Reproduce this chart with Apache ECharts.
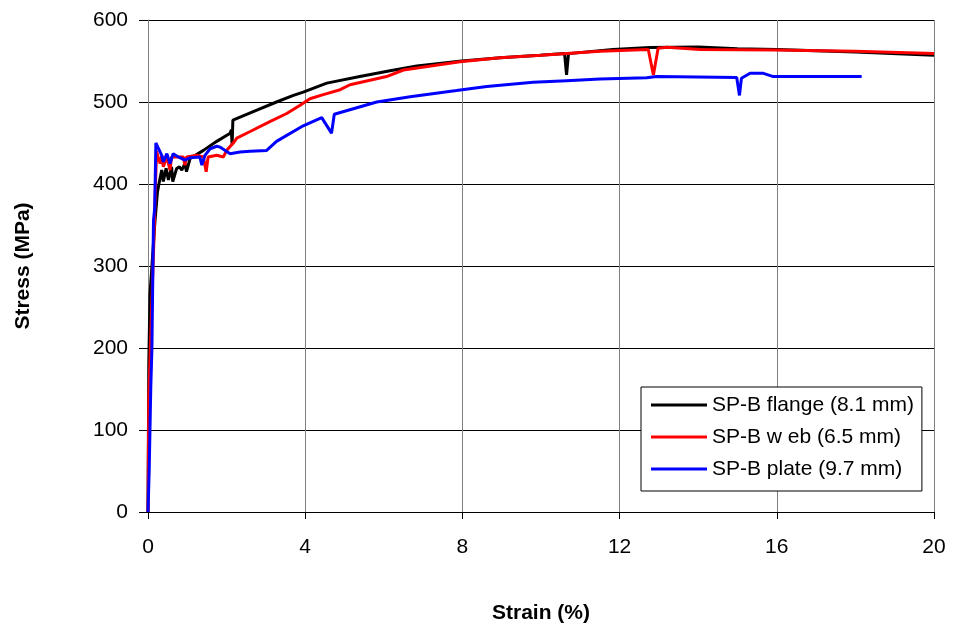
<!DOCTYPE html>
<html>
<head>
<meta charset="utf-8">
<script src="https://cdn.jsdelivr.net/npm/echarts@6/dist/echarts.min.js"></script>
<style>html,body{margin:0;padding:0;background:#fff;}#c{width:953px;height:635px;}</style>
</head>
<body>
<div id="c"></div>
<script>
var seriesNames = ['SP-B flange (8.1 mm)', 'SP-B w eb (6.5 mm)', 'SP-B plate (9.7 mm)'];
var xTicks = [0, 4, 8, 12, 16, 20];
var yTicks = [0, 100, 200, 300, 400, 500, 600];

var flangeStrain = [0,0.02,0.05,0.1,0.17,0.24,0.29,0.35,0.39,0.46,0.52,0.60,0.63,0.73,0.80,0.86,0.94,0.98,1.07,1.41,1.75,2.09,2.12,2.14,2.16,2.77,3.27,3.70,3.95,4.55,5.39,6.16,6.84,7.98,8.96,9.97,10.6,10.65,10.7,11.83,12.77,14,15,16,18,20];
var flangeStress = [0,180,265,300,350,390,403,417,403,419,405,421,403,419,421,417,425,415,431,441,452,462,466,448,478,490,500,508,512,523,531,538,544,550,554,557,559,533,559,564,566.5,567,565,564,561,557];

var webStrain = [0,0.02,0.06,0.1,0.15,0.19,0.22,0.27,0.31,0.35,0.39,0.48,0.56,0.60,0.90,0.94,0.98,1.24,1.41,1.48,1.53,1.75,1.92,2.0,2.17,2.26,2.60,3.10,3.53,3.87,4.12,4.46,4.89,5.14,6.07,6.5,7.94,8.96,10,11.5,12.73,12.86,12.98,13.2,14.05,15.9,18,20];
var webStress = [0,140,200,260,330,400,440,430,425,435,421,433,417,433,433,423,433,435,433,415,433,435,433,441,450,456,464,476,486,496,504,509,515,521,531,539,549,554,557,562,564,533,565.5,566.7,564,563.4,562,559];

var plateStrain = [0,0.03,0.07,0.1,0.12,0.14,0.17,0.2,0.25,0.35,0.39,0.48,0.56,0.64,0.77,0.94,1.07,1.32,1.37,1.45,1.58,1.75,1.83,2.09,2.34,2.6,3.02,3.27,3.95,4.42,4.67,4.74,5.82,6.67,7.85,8.62,9.8,10.65,11.5,12.69,12.94,14.98,15.05,15.1,15.32,15.66,15.91,18.16];
var plateStress = [0,50,150,200,280,356,370,450,445,435,427,437,425,437,433,429,432,433,423,435,443,446,445,437,439,440,441,452,471,481,462,485,500,506.5,514,519,524,526,528,529.6,531,530,508,529,535,535,531,531];

function pairs(xs, ys) { return xs.map(function (x, i) { return [x, ys[i]]; }); }

var colors = ['#000000', '#ff0000', '#0000ff'];
var font = 'Arial, "Liberation Sans", sans-serif';

var chart = echarts.init(document.getElementById('c'), null, {renderer: 'canvas'});
chart.setOption({
  animation: false,
  backgroundColor: '#ffffff',
  grid: {left: 148, right: 19, top: 20, bottom: 123, containLabel: false},
  legend: {
    orient: 'vertical',
    left: 641, top: 387,
    padding: [7, 8, 11, 10],
    itemGap: 10,
    itemWidth: 56, itemHeight: 3,
    icon: 'rect',
    backgroundColor: '#ffffff',
    borderColor: '#000000', borderWidth: 1,
    data: seriesNames,
    textStyle: {fontFamily: font, fontSize: 21, color: '#000', lineHeight: 22}
  },
  xAxis: {
    type: 'value', min: xTicks[0], max: xTicks[xTicks.length - 1], interval: 4,
    name: 'Strain (%)', nameLocation: 'middle', nameGap: 91,
    nameTextStyle: {fontFamily: font, fontSize: 21, fontWeight: 'bold', color: '#000'},
    axisLine: {show: true, onZero: false, lineStyle: {color: '#000', width: 1}},
    axisTick: {show: true, inside: false, length: 7, lineStyle: {color: '#000'}},
    axisLabel: {fontFamily: font, fontSize: 21, color: '#000', margin: 25},
    splitLine: {show: true, lineStyle: {color: '#808080', width: 1}}
  },
  yAxis: {
    type: 'value', min: yTicks[0], max: yTicks[yTicks.length - 1], interval: 100,
    name: 'Stress (MPa)', nameLocation: 'middle', nameGap: 114,
    nameTextStyle: {fontFamily: font, fontSize: 21, fontWeight: 'bold', color: '#000'},
    axisLine: {show: true, lineStyle: {color: '#808080', width: 1}},
    axisTick: {show: true, inside: false, length: 9, lineStyle: {color: '#000'}},
    axisLabel: {fontFamily: font, fontSize: 21, color: '#000', margin: 20},
    splitLine: {show: true, lineStyle: {color: '#000', width: 1}}
  },
  series: [
    {name: seriesNames[0], type: 'line', data: pairs(flangeStrain, flangeStress), showSymbol: false, symbol: 'none', lineStyle: {color: colors[0], width: 3}, itemStyle: {color: colors[0]}},
    {name: seriesNames[1], type: 'line', data: pairs(webStrain, webStress), showSymbol: false, symbol: 'none', lineStyle: {color: colors[1], width: 3}, itemStyle: {color: colors[1]}},
    {name: seriesNames[2], type: 'line', data: pairs(plateStrain, plateStress), showSymbol: false, symbol: 'none', lineStyle: {color: colors[2], width: 3}, itemStyle: {color: colors[2]}}
  ]
});
</script>
</body>
</html>
